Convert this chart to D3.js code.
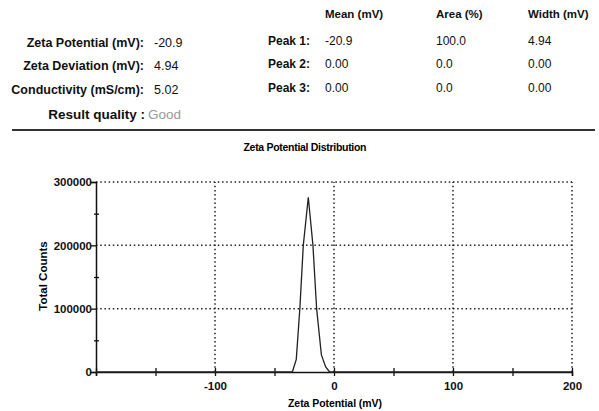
<!DOCTYPE html>
<html lang="en">
<head>
<meta charset="utf-8">
<title>Zeta Potential Distribution</title>
<script src="https://d3js.org/d3.v7.min.js"></script>
<style>
  body { margin: 0; background: #fff; }
  svg { font-family: "Liberation Sans", Arial, sans-serif; }
</style>
</head>
<body>
<script>
// summary values
const summaryLabels = ["Zeta Potential (mV):", "Zeta Deviation (mV):", "Conductivity (mS/cm):"];
const summaryValues = ["-20.9", "4.94", "5.02"];
const qualityText = "Good";

// peak table
const peakNames = ["Peak 1:", "Peak 2:", "Peak 3:"];
const peakHeaders = ["Mean (mV)", "Area (%)", "Width (mV)"];
const peakMean = ["-20.9", "0.00", "0.00"];
const peakArea = ["100.0", "0.0", "0.0"];
const peakWidth = ["4.94", "0.00", "0.00"];

// distribution curve
const zetaMv = [-200, -40, -35, -31.7, -28.7, -25.8, -21.6, -17.7, -14.6, -10.6, -7, -3.6, 0, 200];
const totalCounts = [0, 0, 0, 20000, 100000, 200000, 276000, 200000, 100000, 27000, 8000, 0, 0, 0];

const xTicks = [-200, -150, -100, -50, 0, 50, 100, 150, 200];
const xLabels = [-100, 0, 100, 200];
const yTicks = [0, 50000, 100000, 150000, 200000, 250000, 300000];
const yLabels = [0, 100000, 200000, 300000];

const width = 599, height = 411;
const svg = d3.select("body").append("svg")
  .attr("width", width).attr("height", height);

// ---- header ----
const hdr = svg.append("g").attr("fill", "#111");
const rowY = [47, 70, 94];

summaryLabels.forEach((t, i) => {
  hdr.append("text").attr("x", 144).attr("y", rowY[i])
    .attr("text-anchor", "end").attr("font-weight", "bold")
    .style("font-size", "12.5px").text(t);
  hdr.append("text").attr("x", 154).attr("y", rowY[i])
    .style("font-size", "12.5px").text(summaryValues[i]);
});
hdr.append("text").attr("x", 145).attr("y", 119)
  .attr("text-anchor", "end").attr("font-weight", "bold")
  .style("font-size", "13.5px").text("Result quality :");
hdr.append("text").attr("x", 148).attr("y", 119)
  .style("font-size", "13.5px").attr("fill", "#999").text(qualityText);

const colX = [325, 436, 528];
peakHeaders.forEach((t, j) => {
  hdr.append("text").attr("x", colX[j]).attr("y", 18)
    .attr("font-weight", "bold").style("font-size", "11.5px").text(t);
});
const peakRowY = [45, 68, 92];
peakNames.forEach((t, i) => {
  hdr.append("text").attr("x", 268).attr("y", peakRowY[i])
    .attr("font-weight", "bold").style("font-size", "12px").text(t);
  [peakMean, peakArea, peakWidth].forEach((col, j) => {
    hdr.append("text").attr("x", colX[j]).attr("y", peakRowY[i])
      .style("font-size", "12px").text(col[i]);
  });
});

svg.append("line")
  .attr("x1", 12).attr("x2", 595).attr("y1", 130).attr("y2", 130)
  .attr("stroke", "#333").attr("stroke-width", 2);

// ---- chart ----
const x = d3.scaleLinear().domain([-200, 200]).range([96, 572]);
const y = d3.scaleLinear().domain([0, 300000]).range([372, 182]);

svg.append("text")
  .attr("x", 305).attr("y", 151)
  .attr("text-anchor", "middle")
  .attr("font-weight", "bold")
  .attr("textLength", 123)
  .style("font-size", "10.5px")
  .text("Zeta Potential Distribution");

const grid = svg.append("g")
  .attr("stroke", "#222").attr("stroke-width", 1.5)
  .attr("stroke-dasharray", "1.5,2.7");
grid.selectAll(".hg").data([100000, 200000, 300000]).enter()
  .append("line")
  .attr("x1", x(-200)).attr("x2", x(200))
  .attr("y1", d => y(d)).attr("y2", d => y(d));
grid.selectAll(".vg").data([-100, 0, 100, 200]).enter()
  .append("line")
  .attr("y1", y(0)).attr("y2", y(300000))
  .attr("x1", d => x(d)).attr("x2", d => x(d));

// x axis
const xAxis = d3.axisBottom(x)
  .tickValues(xTicks)
  .tickSize(4)
  .tickFormat(d => xLabels.includes(d) ? d : "");
const gx = svg.append("g")
  .attr("transform", "translate(0," + y(0) + ")")
  .call(xAxis);
gx.select(".domain").attr("stroke", "#111").attr("stroke-width", 1.5);
gx.selectAll(".tick line").attr("y1", -4).attr("stroke", "#111").attr("stroke-width", 1.3);
gx.selectAll(".tick text")
  .attr("y", 10)
  .attr("fill", "#111")
  .style("font-size", "11.5px").style("font-weight", "bold")
  .style("font-family", "'Liberation Sans', Arial, sans-serif");

// y axis
const yAxis = d3.axisLeft(y)
  .tickValues(yTicks)
  .tickSize(5)
  .tickFormat(d => yLabels.includes(d) ? d : "");
const gy = svg.append("g")
  .attr("transform", "translate(" + x(-200) + ",0)")
  .call(yAxis);
gy.select(".domain").attr("stroke", "#111").attr("stroke-width", 1.5);
gy.selectAll(".tick line")
  .attr("stroke", "#111").attr("stroke-width", 1.3)
  .attr("x1", d => yLabels.includes(d) ? 0 : 3)
  .attr("x2", d => yLabels.includes(d) ? -5 : -2);
gy.selectAll(".tick text")
  .attr("x", -4)
  .attr("fill", "#111")
  .style("font-size", "11.5px").style("font-weight", "bold")
  .style("font-family", "'Liberation Sans', Arial, sans-serif");

// curve
const pts = zetaMv.map((v, i) => [v, totalCounts[i]]);
svg.append("path")
  .datum(pts)
  .attr("fill", "none")
  .attr("stroke", "#222")
  .attr("stroke-width", 1.3)
  .attr("d", d3.line().x(d => x(d[0])).y(d => y(d[1])));

// axis titles
svg.append("text")
  .attr("x", 335).attr("y", 407)
  .attr("text-anchor", "middle")
  .attr("font-weight", "bold")
  .attr("textLength", 94)
  .style("font-size", "10.5px")
  .text("Zeta Potential (mV)");

svg.append("text")
  .attr("transform", "translate(47,276) rotate(-90)")
  .attr("text-anchor", "middle")
  .attr("font-weight", "bold")
  .style("font-size", "11.5px")
  .text("Total Counts");
</script>
</body>
</html>
